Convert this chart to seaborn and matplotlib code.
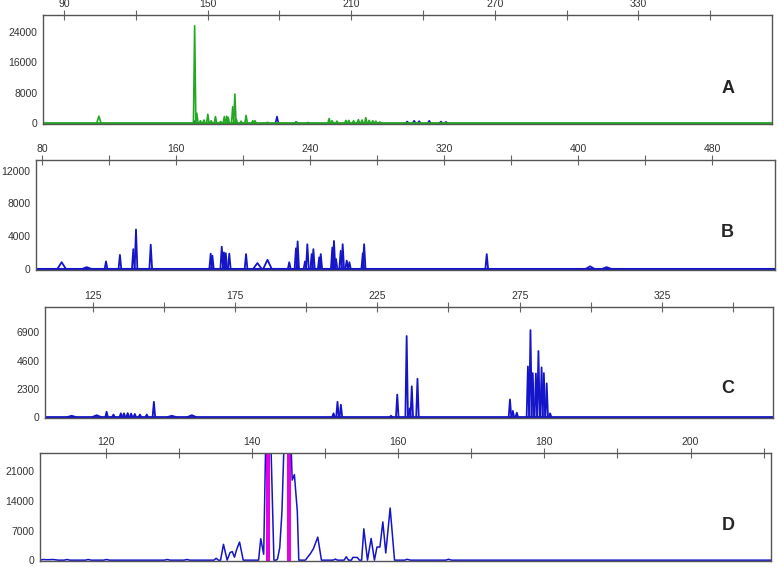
import numpy as np
import pandas as pd
import matplotlib
matplotlib.use("Agg")
import matplotlib.pyplot as plt
from matplotlib.ticker import MultipleLocator
import seaborn as sns

# --- panel A (green trace, a few blue peaks underneath) ---
a_green_pos = [104.6, 144.6, 145.5, 147.0, 148.5, 150.1, 151.5, 153.3, 155.5, 157.0, 158.0, 158.6,
               160.5, 161.4, 162.0, 164.0, 166.1, 168.9, 169.8, 175.0, 187.0, 192.0, 200.8, 202.0,
               204.0, 207.8, 209.0, 211.0, 213.0, 214.5, 216.1, 217.5, 219.0, 220.3, 222.0]
a_green_hgt = [1800, 25500, 2600, 600, 800, 2300, 600, 1700, 400, 1700, 1800, 1500,
               4300, 7600, 1000, 500, 2000, 600, 600, 200, 300, 150, 1200, 600,
               500, 700, 700, 600, 900, 800, 1400, 700, 600, 500, 300]
a_blue_pos = [144.6, 161.4, 179.0, 187.0, 233.4, 236.3, 238.4, 242.6, 247.5, 249.6]
a_blue_hgt = [500, 400, 1700, 300, 400, 600, 500, 600, 400, 300]

# --- panel B ---
b_pos = [91.7, 106.7, 118.2, 126.5, 134.5, 136.1, 144.9, 180.7, 181.7, 187.3, 188.6, 189.7,
         191.8, 201.8, 208.6, 214.6, 227.6, 231.6, 232.6, 237.0, 238.4, 241.0, 242.0, 245.5,
         246.4, 253.3, 254.3, 255.5, 258.3, 259.5, 261.9, 263.5, 271.5, 272.3, 345.5, 407.2, 417.1]
b_hgt = [800, 200, 900, 1700, 2400, 4800, 2950, 1850, 1600, 2700, 2000, 1900,
         1850, 1800, 700, 1100, 800, 2500, 3350, 900, 3000, 1800, 2400, 1400,
         1800, 2600, 3400, 1200, 2200, 3000, 1000, 800, 1900, 3000, 1800, 300, 200]
b_wide = [91.7, 106.7, 208.6, 214.6, 407.2, 417.1]

# --- panel C ---
c_pos = [117.6, 126.4, 129.9, 132.3, 134.9, 136.0, 137.3, 138.5, 139.8, 141.6, 144.0, 146.5,
         152.8, 159.8, 209.6, 211.0, 212.2, 229.8, 232.0, 235.3, 236.3, 237.1, 239.1, 271.6,
         272.6, 274.0, 277.9, 278.8, 279.6, 280.7, 281.6, 282.7, 283.5, 284.5, 285.7]
c_hgt = [100, 150, 430, 200, 300, 300, 320, 280, 250, 200, 200, 1240,
         100, 150, 300, 1240, 1000, 100, 1830, 6600, 700, 2500, 3120, 1430,
         500, 350, 4120, 7080, 3580, 3550, 5380, 4040, 3580, 2740, 300]
c_wide = [117.6, 126.4, 152.8, 159.8]

# --- panel D (trace vertices, off-scale peaks clipped at the top) ---
d_x = [111.0, 111.4, 112.0, 112.8, 113.5, 114.3, 114.7, 115.1, 117.2, 117.6, 118.0, 119.7,
       120.1, 120.5, 128.0, 128.4, 128.8, 130.7, 131.1, 131.5, 134.8, 135.1, 135.4, 135.7,
       136.1, 136.6, 137.0, 137.3, 137.6, 137.9, 138.3, 138.8, 140.9, 141.2, 141.6, 142.0,
       142.4, 143.0, 143.3, 143.5, 143.8, 144.1, 144.6, 145.1, 145.5, 145.8, 146.2, 146.4,
       147.3, 148.0, 148.4, 149.0, 149.5, 151.1, 151.4, 151.7, 152.6, 152.9, 153.2, 153.6,
       153.8, 154.4, 154.7, 155.0, 155.3, 155.8, 156.3, 156.75, 157.1, 157.5, 157.9, 158.3,
       158.9, 159.5, 160.9, 161.2, 161.7, 166.5, 166.9, 167.3, 211.0]
d_y = [0, 150, 100, 150, 0, 0, 150, 0, 0, 150, 0, 0,
       150, 0, 0, 150, 0, 0, 150, 0, 0, 450, 0, 0,
       3730, 0, 1800, 2020, 700, 2500, 4280, 0, 0, 5060, 1400, 40000,
       40000, 0, 0, 300, 3000, 11500, 40000, 40000, 18900, 20200, 11500, 0,
       0, 1560, 2700, 5440, 0, 0, 250, 0, 0, 800, 0, 0,
       650, 650, 0, 0, 7400, 0, 5130, 0, 3100, 3100, 9030, 1700,
       12300, 0, 0, 200, 0, 0, 200, 0, 0]
d_mark_start = [141.92, 144.85]
d_mark_end = [142.45, 145.38]

GREEN = "#22a822"
BLUE = "#1414c8"
MAGENTA = "#e600e6"


def peak_table(pos, hgt, half, wide=(), wide_half=2.5):
    rows = []
    for i, (p, h) in enumerate(zip(pos, hgt)):
        w = wide_half if p in wide else half
        rows += [(p - w, 0, i), (p, h, i), (p + w, 0, i)]
    return pd.DataFrame(rows, columns=["x", "y", "peak"])


def style_axis(ax, xlim, ylim, xmaj, xoff, ymaj, label, lx, ly):
    ax.set_xlim(*xlim)
    ax.set_ylim(*ylim)
    ax.xaxis.set_major_locator(MultipleLocator(xmaj, offset=xoff))
    ax.xaxis.set_minor_locator(MultipleLocator(xmaj / 2, offset=xoff))
    ax.yaxis.set_major_locator(MultipleLocator(ymaj))
    ax.yaxis.set_minor_locator(MultipleLocator(ymaj / 2))
    ax.tick_params(axis="x", which="both", top=True, bottom=False, labeltop=True,
                   labelbottom=False, direction="inout", length=7, width=0.8,
                   color="#666666", labelcolor="#333333", labelsize=7.5, pad=1)
    ax.tick_params(axis="y", which="both", direction="out", length=3, width=0.8,
                   color="#666666", labelcolor="#333333", labelsize=7.5, pad=1)
    for s in ax.spines.values():
        s.set_color("#555555")
        s.set_linewidth(1)
    ax.set_xlabel("")
    ax.set_ylabel("")
    ax.text(lx, ly, label, transform=ax.transAxes, fontsize=13, fontweight="bold",
            ha="center", va="center")


sns.set_style("white")
plt.rcParams["font.family"] = ["Liberation Sans", "DejaVu Sans"]

fig = plt.figure(figsize=(7.78, 5.67), dpi=100)
W, H = 778, 567


def panel(left, right, top, bottom):
    return fig.add_axes([left / W, 1 - bottom / H, (right - left) / W, (bottom - top) / H])


# A
axA = panel(43, 772, 15, 124)
sns.lineplot(data=peak_table(a_blue_pos, a_blue_hgt, 0.6), x="x", y="y", units="peak",
             estimator=None, sort=False, color=BLUE, lw=1.2, ax=axA)
sns.lineplot(data=peak_table(a_green_pos, a_green_hgt, 0.5, [104.6], 0.9), x="x", y="y",
             units="peak", estimator=None, sort=False, color=GREEN, lw=1.2, ax=axA)
axA.axhline(0, color=GREEN, lw=2)
style_axis(axA, (81.25, 385.8), (-250, 28340), 60, 30, 8000, "A", 0.94, 0.33)

# B
axB = panel(36, 775, 160, 270)
sns.lineplot(data=peak_table(b_pos, b_hgt, 0.8, b_wide, 2.5), x="x", y="y", units="peak",
             estimator=None, sort=False, color=BLUE, lw=1.3, ax=axB)
axB.axhline(0, color=BLUE, lw=1.5)
style_axis(axB, (76.4, 517.6), (-150, 13300), 80, 0, 4000, "B", 0.936, 0.345)

# C
axC = panel(45, 773, 307, 418)
sns.lineplot(data=peak_table(c_pos, c_hgt, 0.45, c_wide, 1.5), x="x", y="y", units="peak",
             estimator=None, sort=False, color=BLUE, lw=1.3, ax=axC)
axC.axhline(0, color=BLUE, lw=2)
style_axis(axC, (108.25, 364.0), (-80, 8966), 50, 25, 2300, "C", 0.938, 0.27)

# D
axD = panel(40, 771, 453, 561)
for s, e in zip(d_mark_start, d_mark_end):
    axD.axvspan(s, e, color=MAGENTA, lw=0, zorder=1)
sns.lineplot(x=d_x, y=d_y, sort=False, color=BLUE, lw=1.1, ax=axD, zorder=2)
style_axis(axD, (111.0, 211.0), (-200, 25300), 20, 0, 7000, "D", 0.941, 0.333)

fig.savefig("out.png", dpi=100)
